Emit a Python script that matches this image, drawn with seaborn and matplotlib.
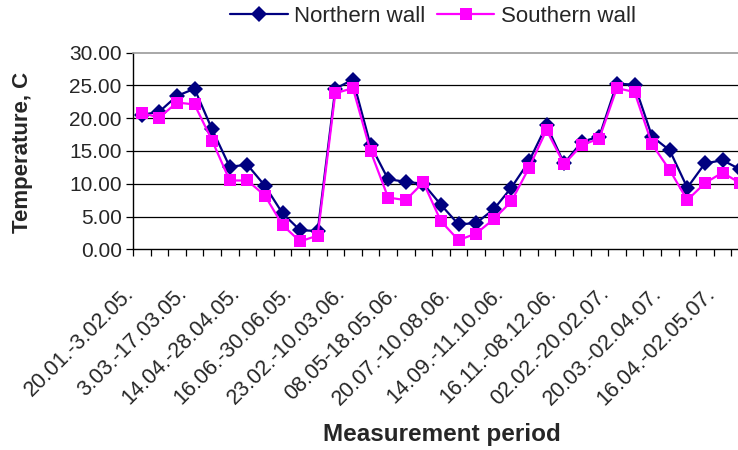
import matplotlib
matplotlib.use("Agg")
import matplotlib.pyplot as plt
import matplotlib.transforms as mtransforms
from matplotlib.ticker import FormatStrFormatter, FixedLocator
import seaborn as sns
import pandas as pd
import numpy as np

northern = [20.5, 21.0, 23.4, 24.5, 18.3, 12.6, 12.9, 9.7, 5.5, 2.9, 2.8,
            24.5, 25.9, 15.9, 10.7, 10.3, 10.0, 6.8, 3.8, 4.0, 6.1, 9.4,
            13.4, 18.9, 13.1, 16.4, 17.2, 25.3, 25.1, 17.2, 15.1, 9.4,
            13.1, 13.6, 12.2]
southern = [20.8, 20.1, 22.4, 22.1, 16.6, 10.5, 10.5, 8.2, 3.7, 1.2, 2.1,
            23.8, 24.6, 15.0, 7.9, 7.5, 10.2, 4.3, 1.4, 2.4, 4.6, 7.3,
            12.4, 18.2, 13.0, 15.9, 16.9, 24.6, 24.0, 16.0, 12.1, 7.5,
            10.1, 11.7, 10.1]
tick_labels = ["20.01.-3.02.05.", "3.03.-17.03.05.", "14.04.-28.04.05.",
               "16.06.-30.06.05.", "23.02.-10.03.06.", "08.05-18.05.06.",
               "20.07.-10.08.06.", "14.09.-11.10.06.", "16.11.-08.12.06.",
               "02.02.-20.02.07.", "20.03.-02.04.07.", "16.04.-02.05.07."]
series_names = ["Northern wall", "Southern wall"]

sns.set_style("white")
plt.rcParams['font.family'] = ['Liberation Sans', 'DejaVu Sans']

n = len(northern)
df = pd.DataFrame({
    "idx": list(range(n)) * 2,
    "value": northern + southern,
    "series": [series_names[0]] * n + [series_names[1]] * n,
})

fig = plt.figure(figsize=(7.38, 4.5), dpi=100)
ax = fig.add_axes([132.9 / 738, 1 - 249.3 / 450, 616.0 / 738, 196.6 / 450])

sns.lineplot(data=df, x="idx", y="value", hue="series", style="series",
             markers={"Northern wall": "D", "Southern wall": "s"},
             dashes=False, palette={"Northern wall": "#000080", "Southern wall": "#FF00FF"},
             markersize=8, linewidth=1.6, markeredgewidth=0, ax=ax, legend=True, clip_on=True)

ax.set_xlim(-0.5, n - 0.5)
ax.set_ylim(0, 30)
ax.set_yticks(np.arange(0, 31, 5))
ax.yaxis.set_major_formatter(FormatStrFormatter("%.2f"))
for y in range(5, 30, 5):
    ax.axhline(y, color="black", lw=0.9, zorder=0)

ax.set_xticks(list(range(0, n, 3)))
ax.set_xticklabels(tick_labels, rotation=45, ha="right", va="center",
                   rotation_mode="anchor", fontsize=15.5)
ax.xaxis.set_minor_locator(FixedLocator(np.arange(-0.5, n, 1.0)))
ax.tick_params(axis="x", which="major", length=0, pad=0)
ax.tick_params(axis="x", which="minor", length=5, width=0.9, color="black", direction="out", bottom=True)
ax.tick_params(axis="y", length=5, width=0.9, color="black", direction="out", left=True, labelsize=15, pad=3)
offset = mtransforms.ScaledTranslation(-0.11, -0.41, fig.dpi_scale_trans)
for lbl in ax.get_xticklabels():
    lbl.set_transform(lbl.get_transform() + offset)

for s in ["left", "bottom"]:
    ax.spines[s].set_color("black")
    ax.spines[s].set_linewidth(1.0)
ax.spines["top"].set_color("#999999")
ax.spines["top"].set_linewidth(1.2)
ax.spines["right"].set_visible(False)

ax.set_xlabel("")
ax.set_ylabel("")
fig.text(23 / 738, 1 - 152 / 450, "Temperature, C", rotation=90, ha="center", va="center",
         fontsize=16, fontweight="bold")
fig.text(442 / 738, 1 - 435 / 450, "Measurement period", ha="center", va="center",
         fontsize=17.5, fontweight="bold")

handles, labels = ax.get_legend_handles_labels()
ax.legend(handles, labels, loc="center", bbox_to_anchor=(433 / 738, 1 - 16 / 450),
          bbox_transform=fig.transFigure, ncol=2, frameon=False, fontsize=16,
          handlelength=2.6, columnspacing=0.5, handletextpad=0.3)

fig.savefig("out.png", dpi=100)
